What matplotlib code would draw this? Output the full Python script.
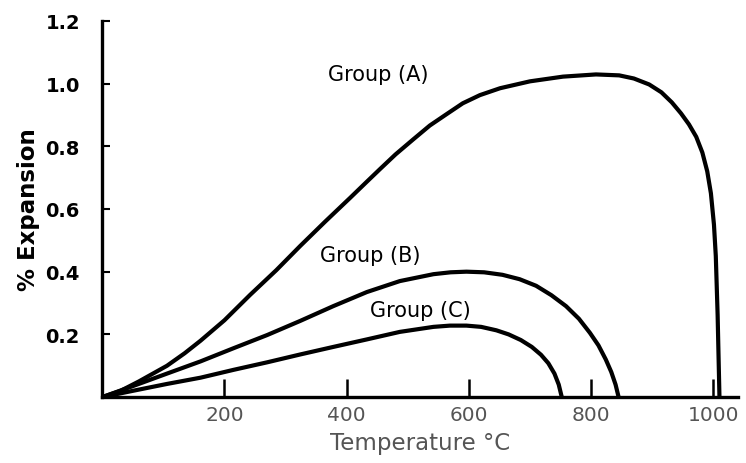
import matplotlib
matplotlib.use("Agg")
import matplotlib.pyplot as plt

# Data
group_a_temp = [0, 30, 60, 106, 135, 161, 200, 242, 285, 324, 365, 406, 432, 455, 480, 509,
                536, 564, 590, 618, 651, 700, 754, 808, 846, 870, 895, 915, 932, 947, 960,
                972, 982, 990, 996, 1001, 1004, 1007, 1010]
group_a_exp = [0, 0.02, 0.05, 0.1, 0.14, 0.18, 0.245, 0.326, 0.405, 0.482, 0.56, 0.636, 0.685,
               0.728, 0.774, 0.822, 0.866, 0.903, 0.937, 0.963, 0.985, 1.007, 1.022, 1.029,
               1.026, 1.016, 0.997, 0.972, 0.94, 0.905, 0.87, 0.83, 0.78, 0.72, 0.65, 0.55,
               0.45, 0.262, 0.0]

group_b_temp = [0, 50, 106, 161, 215, 270, 324, 378, 433, 487, 542, 570, 596, 625, 655, 683,
                710, 735, 759, 780, 798, 812, 824, 833, 840, 845]
group_b_exp = [0, 0.035, 0.075, 0.114, 0.156, 0.198, 0.243, 0.29, 0.335, 0.37, 0.392, 0.398,
               0.40, 0.398, 0.39, 0.376, 0.355, 0.325, 0.29, 0.25, 0.205, 0.165, 0.12, 0.08,
               0.04, 0.0]

group_c_temp = [0, 50, 106, 161, 215, 270, 324, 378, 433, 487, 542, 569, 596, 620, 645, 665,
                685, 703, 718, 730, 740, 747, 752]
group_c_exp = [0, 0.02, 0.042, 0.062, 0.087, 0.111, 0.136, 0.16, 0.184, 0.208, 0.224, 0.228,
               0.228, 0.224, 0.213, 0.2, 0.182, 0.16, 0.135, 0.108, 0.075, 0.04, 0.0]

x_ticks = [200, 400, 600, 800, 1000]
x_tick_labels = ["200", "400", "600", "800", "1000"]
y_ticks = [0.2, 0.4, 0.6, 0.8, 1.0, 1.2]
y_tick_labels = ["0.2", "0.4", "0.6", "0.8", "1.0", "1.2"]

series_labels = ["Group (A)", "Group (B)", "Group (C)"]
label_pos = [(451, 1.03), (438, 0.452), (520, 0.277)]

fig = plt.figure(figsize=(7.46, 4.64), dpi=100)
ax = fig.add_axes([0.137, 0.142, 0.852, 0.811])

for xs, ys in [(group_a_temp, group_a_exp), (group_b_temp, group_b_exp), (group_c_temp, group_c_exp)]:
    ax.plot(xs, ys, color="black", lw=3.0, solid_capstyle="round", solid_joinstyle="round")

for lab, (lx, ly) in zip(series_labels, label_pos):
    ax.text(lx, ly, lab, ha="center", va="center", fontsize=15, color="black",
            family="DejaVu Sans")

ax.set_xlim(0, 1040)
ax.set_ylim(0, 1.2)
for s in ["top", "right"]:
    ax.spines[s].set_visible(False)
ax.spines["left"].set_linewidth(2.4)
ax.spines["bottom"].set_linewidth(2.4)

ax.set_xticks(x_ticks)
ax.set_xticklabels(x_tick_labels, color="#555555", fontsize=14.5)
ax.set_yticks(y_ticks)
ax.set_yticklabels(y_tick_labels, color="black", fontsize=14, fontweight="bold")
ax.tick_params(axis="x", direction="in", length=13, width=1.8, pad=6)
ax.tick_params(axis="y", direction="in", length=6, width=1.5, pad=16)

ax.set_xlabel("Temperature °C", color="#555555", fontsize=16.5, labelpad=5)
ax.set_ylabel("% Expansion", color="black", fontsize=16.5, fontweight="bold", labelpad=4)

fig.savefig("out.png", dpi=100)
